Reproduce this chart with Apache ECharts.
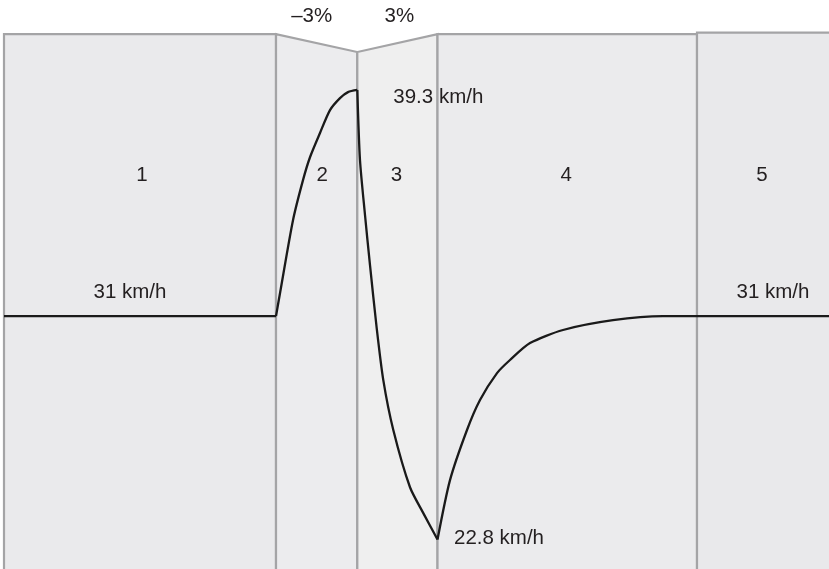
<!DOCTYPE html>
<html>
<head>
<meta charset="utf-8">
<script src="https://cdn.jsdelivr.net/npm/echarts@6/dist/echarts.min.js"></script>
<style>
html,body{margin:0;padding:0;background:#ffffff;}
#chart{width:829px;height:569px;}
</style>
</head>
<body>
<div id="chart"></div>
<script>
// ---- data ----
const segNames = ['1', '2', '3', '4', '5'];
const segBounds = [0, 272, 353.3, 433.5, 693, 830];        // distance along the road
const segGrades = ['', '–3%', '3%', '', ''];
const segTopStart = [41.35, 41.35, 40.69, 41.35, 41.40];   // road profile (drawn on the speed scale)
const segTopEnd   = [41.35, 40.69, 41.35, 41.35, 41.40];

const distance = [0, 272,
                  276, 289, 299, 306, 316, 326, 336, 344, 353.3,
                  356, 361, 366, 372.7, 379.3, 389.3, 406, 419.3, 433.5,
                  446, 463, 476, 493, 506, 526, 559, 609, 659, 693,
                  825];
const speed    = [31, 31,
                  31.84, 34.52, 35.99, 36.83, 37.72, 38.56, 39.0, 39.22, 39.3,
                  36.72, 34.71, 32.87, 30.56, 28.65, 26.82, 24.72, 23.77, 22.8,
                  24.98, 26.82, 27.92, 28.91, 29.39, 30.01, 30.49, 30.85, 31.0, 31.0,
                  31.0];

const speedNoteText  = ['31 km/h', '39.3 km/h', '22.8 km/h', '31 km/h'];
const speedNoteDist  = [136, 353.3, 433.5, 759];
const speedNoteValue = [31, 39.3, 22.8, 31];

// ---- styles / layout ----
const X_MAX = 825, Y_MIN = 21.72, Y_MAX = 42.6, Y_FLOOR = 20;
const panelFill = ['#eaeaec', '#ececee', '#efefef', '#ebebed', '#e9e9eb'];
const FONT = '"Liberation Sans", Arial, sans-serif';
const TEXT_COLOR = '#231f20';
const segLabelLevel = 36.16;
const segLabelShift = [2, 5.5, -1, -1, -3];
const gradeShift = [0, -5, 2, 0, 0];
const noteOffset = [[-10, -24, 'center'], [36, 7, 'left'], [16.5, -1, 'left'], [10, -24, 'center']];

const panelData = segNames.map((n, i) => [segBounds[i], segBounds[i + 1], segTopStart[i], segTopEnd[i]]);

const labelItems = [];
segNames.forEach((n, i) => {
  const c = (segBounds[i] + Math.min(segBounds[i + 1], X_MAX + 4)) / 2;
  labelItems.push({ value: [c, segLabelLevel], text: n, dx: segLabelShift[i], dy: 0, align: 'center' });
});
segGrades.forEach((g, i) => {
  if (!g) return;
  const c = (segBounds[i] + segBounds[i + 1]) / 2;
  labelItems.push({ value: [c, Math.max(segTopStart[i], segTopEnd[i])], text: g, dx: gradeShift[i], dy: -17.5, align: 'center' });
});
speedNoteText.forEach((t, i) => {
  labelItems.push({ value: [speedNoteDist[i], speedNoteValue[i]], text: t, dx: noteOffset[i][0], dy: noteOffset[i][1], align: noteOffset[i][2] });
});

// split the speed profile into one smoothed line per road segment (sharp corners at boundaries)
const eps = 0.5;
const lineSeries = segNames.map((n, i) => {
  const lo = segBounds[i] - eps, hi = segBounds[i + 1] + eps;
  const pts = distance.map((d, k) => [d, speed[k]]).filter(p => p[0] >= lo && p[0] <= hi);
  return {
    type: 'line',
    z: 3,
    data: pts,
    showSymbol: false,
    smooth: 0.25,
    lineStyle: { color: '#1a1a1a', width: 2.3, join: 'round' }
  };
});

const chart = echarts.init(document.getElementById('chart'), null, { renderer: 'canvas' });
chart.setOption({
  animation: false,
  backgroundColor: '#ffffff',
  grid: { left: 4, right: 0, top: 0, bottom: 0 },
  xAxis: { type: 'value', min: 0, max: X_MAX, show: false },
  yAxis: { type: 'value', min: Y_MIN, max: Y_MAX, show: false },
  series: [
    {
      type: 'custom',
      z: 1,
      clip: false,
      data: panelData,
      encode: { x: [0, 1], y: [2, 3] },
      renderItem: function (params, api) {
        const i = params.dataIndex;
        const x0 = api.value(0), x1 = api.value(1);
        const pts = [
          api.coord([x0, Y_FLOOR]),
          api.coord([x0, api.value(2)]),
          api.coord([x1, api.value(3)]),
          api.coord([x1, Y_FLOOR])
        ];
        return {
          type: 'polygon',
          shape: { points: pts },
          style: { fill: panelFill[i], stroke: '#a4a4a6', lineWidth: 2.2, lineJoin: 'miter' }
        };
      }
    }
  ].concat(lineSeries).concat([
    {
      type: 'custom',
      z: 4,
      clip: false,
      data: labelItems.map(it => it.value),
      renderItem: function (params, api) {
        const it = labelItems[params.dataIndex];
        const p = api.coord([api.value(0), api.value(1)]);
        return {
          type: 'text',
          x: p[0] + it.dx,
          y: p[1] + it.dy,
          style: {
            text: it.text,
            fill: TEXT_COLOR,
            fontSize: 20.5,
            fontFamily: FONT,
            align: it.align,
            verticalAlign: 'middle'
          }
        };
      }
    }
  ])
});
</script>
</body>
</html>
